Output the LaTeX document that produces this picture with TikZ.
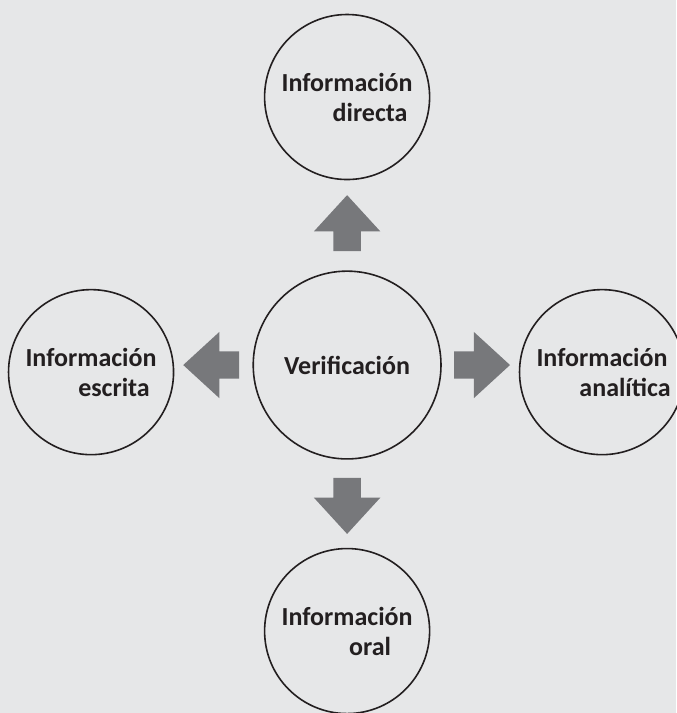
\documentclass[tikz,border=0pt]{standalone}
\usepackage{fontspec}
\setmainfont{Carlito}
\usetikzlibrary{shapes.arrows, calc}
\definecolor{fondo}{HTML}{e6e7e8}
\definecolor{gris}{HTML}{77787b}
\definecolor{tinta}{HTML}{231f20}
\tikzstyle{tema}=[circle,
                  draw=tinta,
                  line width=1.6pt,
                  text=tinta,
                  align=center,
                  inner sep=0pt,
                  font=\bfseries\fontsize{26}{30}\selectfont,
                  minimum size=5.8cm
                 ]
\tikzstyle{centro}=[tema, minimum size=6.6cm]
\tikzstyle{bloque}=[single arrow,
                    fill=gris,
                    draw=none,
                    anchor=tail,
                    inner xsep=0pt,
                    inner ysep=13.5pt,
                    minimum width=66pt,
                    minimum height=56pt,
                    single arrow head extend=19.5pt,
                    single arrow tip angle=85
                   ]
\newcommand{\seg}[1]{\hspace*{46pt}#1}

\begin{document}
\begin{tikzpicture}
  \useasboundingbox[fill=fondo] (-12.20cm, -12.23cm) rectangle (11.56cm, 12.83cm);

  \node at (0.0cm, 0.0cm) (ver) [centro] {Verificación};

  \node at (0.0cm, 9.42cm) (dir) [tema] {Información\\\seg{directa}};
  \node at (-9.0cm, -0.25cm) (esc) [tema] {Información\\\seg{escrita}};
  \node at (8.96cm, -0.25cm) (ana) [tema] {Información\\\seg{analítica}};
  \node at (0.0cm, -9.35cm) (ora) [tema] {Información\\\seg{oral}};

  \node at ($(ver.north)+(0, 19pt)$) (fdir) [bloque, rotate=90] {};
  \node at ($(ver.south)+(0, -18pt)$) (fora) [bloque, rotate=-90] {};
  \node at ($(ver.east)+(12pt, 0)$) (fana) [bloque] {};
  \node at ($(ver.west)+(-13pt, 0)$) (fesc) [bloque, rotate=180] {};
\end{tikzpicture}
\end{document}
